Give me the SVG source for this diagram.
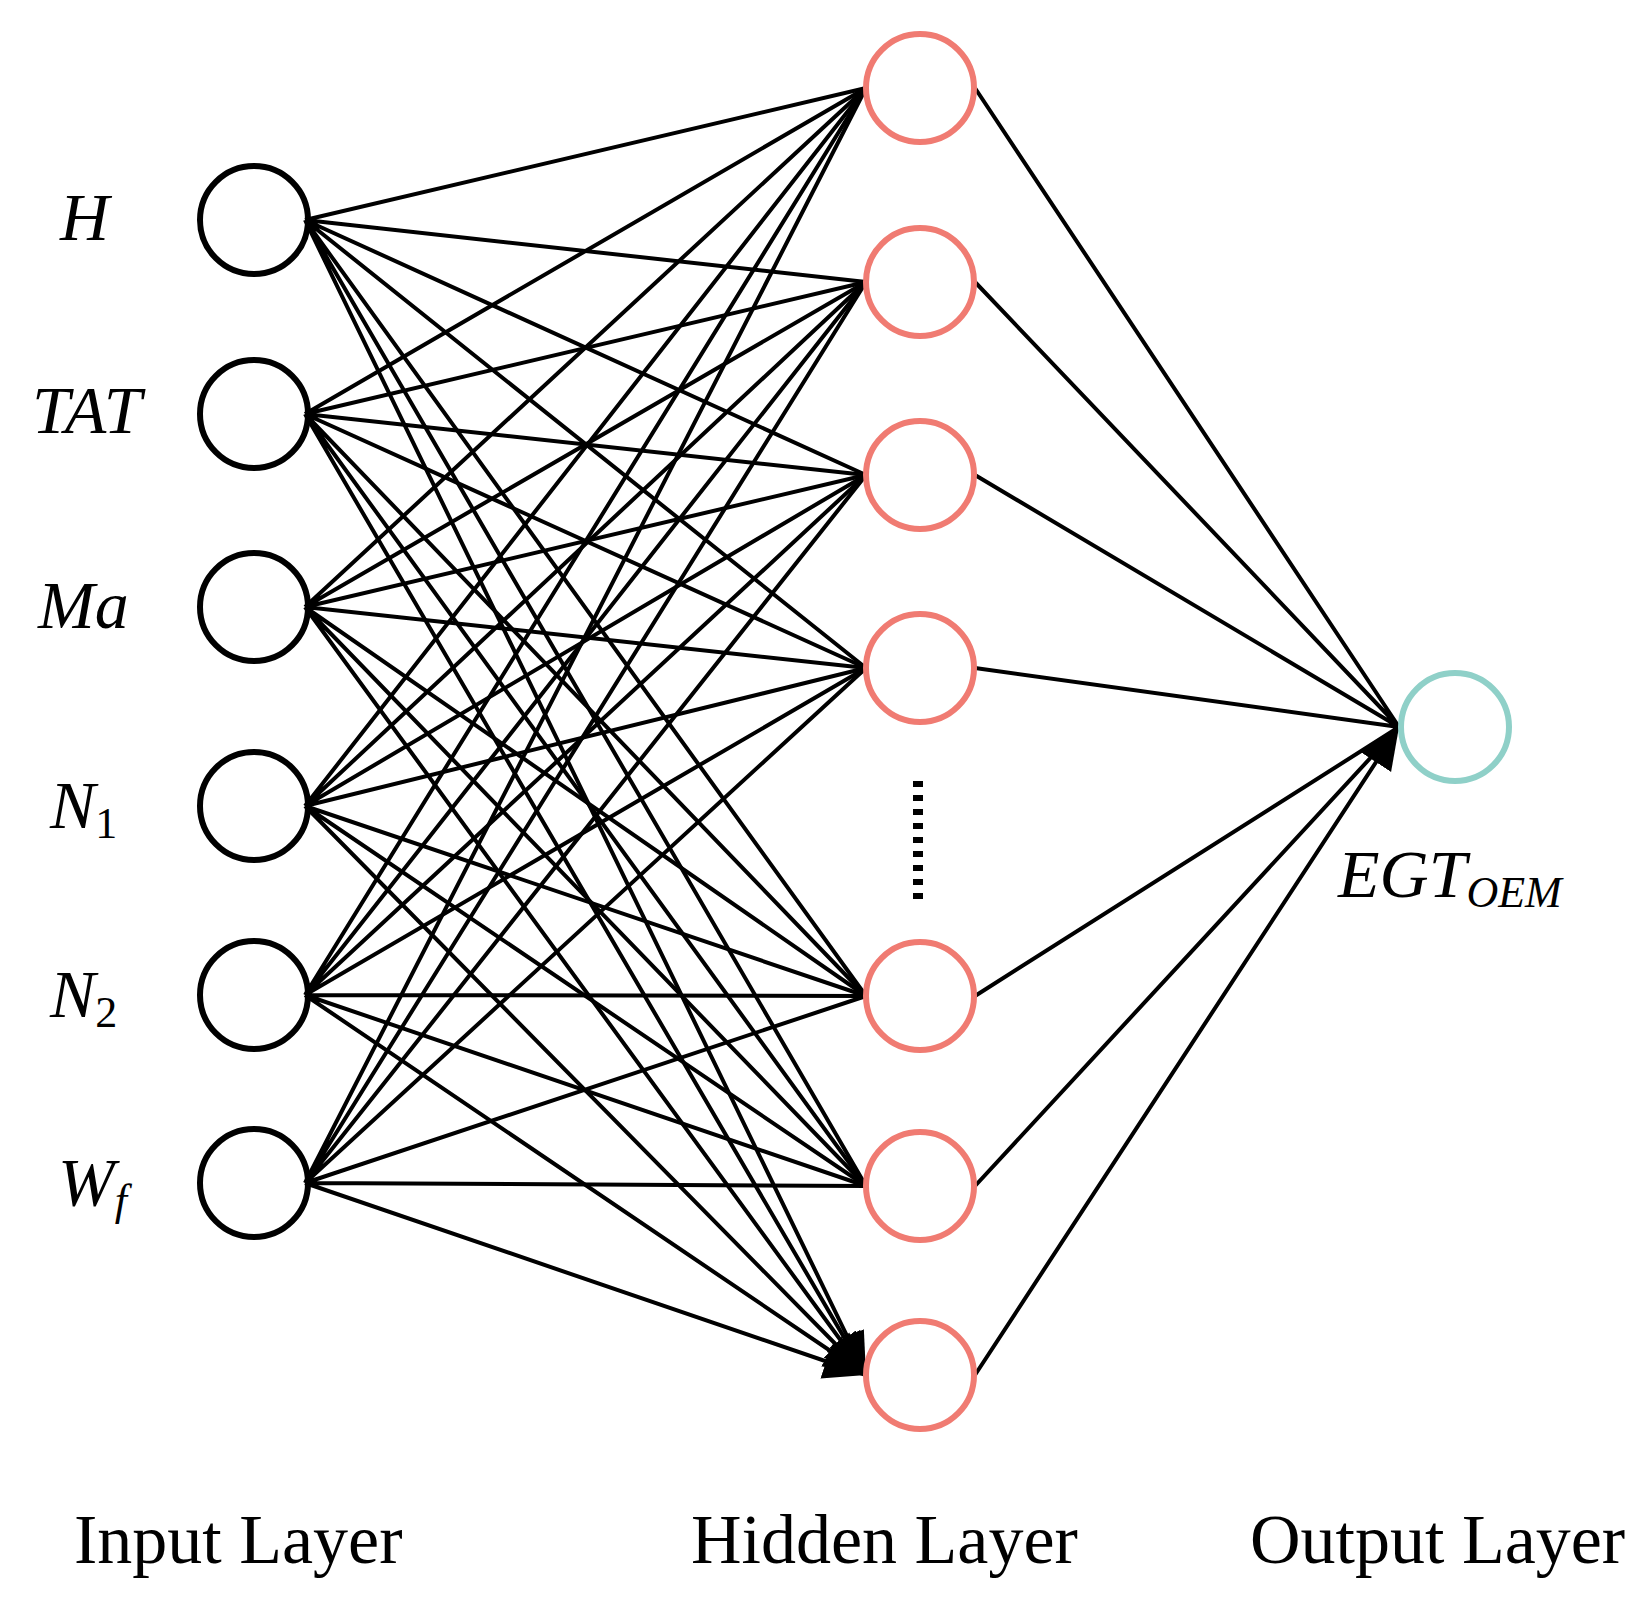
<svg xmlns="http://www.w3.org/2000/svg" width="1646" height="1607" viewBox="0 0 1646 1607">
<style>
.e{stroke:#000;stroke-width:4;fill:none;marker-end:url(#ah)}
.in{fill:none;stroke:#000;stroke-width:6}
.hid{fill:none;stroke:#F07B72;stroke-width:6}
.out{fill:none;stroke:#8FD0C8;stroke-width:6}
.lab{font-family:"Liberation Serif",serif;font-style:italic;font-size:68px;fill:#000}
.sub{font-size:44px}
.ttl{font-family:"Liberation Serif",serif;font-size:70px;fill:#000}
</style>
<defs>
<marker id="ah" markerUnits="userSpaceOnUse" markerWidth="44" markerHeight="40" refX="42" refY="20" orient="auto" viewBox="0 0 44 40">
<path d="M0,2 L42,20 L0,38 z" fill="#000"/>
</marker>
</defs>
<g id="connectors">
<!-- input to hidden -->
<path class="e" d="M305,220L866,88M305,220L866,282M305,220L866,475M305,220L866,668M305,220L866,996M305,220L866,1186M305,220L866,1375"/>
<path class="e" d="M305,414L866,88M305,414L866,282M305,414L866,475M305,414L866,668M305,414L866,996M305,414L866,1186M305,414L866,1375"/>
<path class="e" d="M305,607L866,88M305,607L866,282M305,607L866,475M305,607L866,668M305,607L866,996M305,607L866,1186M305,607L866,1375"/>
<path class="e" d="M305,806L866,88M305,806L866,282M305,806L866,475M305,806L866,668M305,806L866,996M305,806L866,1186M305,806L866,1375"/>
<path class="e" d="M305,995L866,88M305,995L866,282M305,995L866,475M305,995L866,668M305,995L866,996M305,995L866,1186M305,995L866,1375"/>
<path class="e" d="M305,1183L866,88M305,1183L866,282M305,1183L866,475M305,1183L866,668M305,1183L866,996M305,1183L866,1186M305,1183L866,1375"/>
<!-- hidden to output -->
<path class="e" d="M975,88L1399,727M975,282L1399,727M975,475L1399,727M975,668L1399,727M975,996L1399,727M975,1186L1399,727M975,1375L1399,727"/>
</g>
<g id="input-nodes">
<g id="in-H"><circle class="in" cx="254" cy="220" r="54"/><text class="lab" x="60" y="240">H</text></g>
<g id="in-TAT"><circle class="in" cx="254" cy="414" r="54"/><text class="lab" x="32" y="433">TAT</text></g>
<g id="in-Ma"><circle class="in" cx="254" cy="607" r="54"/><text class="lab" x="38" y="628">Ma</text></g>
<g id="in-N1"><circle class="in" cx="254" cy="806" r="54"/><text class="lab" x="50" y="828">N<tspan class="sub" font-style="normal" dy="10">1</tspan></text></g>
<g id="in-N2"><circle class="in" cx="254" cy="995" r="54"/><text class="lab" x="50" y="1017">N<tspan class="sub" font-style="normal" dy="10">2</tspan></text></g>
<g id="in-Wf"><circle class="in" cx="254" cy="1183" r="54"/><text class="lab" x="58" y="1205">W<tspan class="sub" dy="10">f</tspan></text></g>
</g>
<g id="hidden-nodes">
<g id="h1"><circle class="hid" cx="920" cy="88" r="54"/></g>
<g id="h2"><circle class="hid" cx="920" cy="282" r="54"/></g>
<g id="h3"><circle class="hid" cx="920" cy="475" r="54"/></g>
<g id="h4"><circle class="hid" cx="920" cy="668" r="54"/></g>
<g id="dots"><line x1="918" y1="781" x2="918" y2="902" stroke="#000" stroke-width="10" stroke-dasharray="6,8"/></g>
<g id="h5"><circle class="hid" cx="920" cy="996" r="54"/></g>
<g id="h6"><circle class="hid" cx="920" cy="1186" r="54"/></g>
<g id="h7"><circle class="hid" cx="920" cy="1375" r="54"/></g>
</g>
<g id="output-node">
<circle class="out" cx="1455" cy="727" r="54"/>
<text class="lab" x="1338" y="897" font-size="66">EGT<tspan class="sub" font-size="40" dy="10">OEM</tspan></text>
</g>
<g id="titles">
<text class="ttl" x="74" y="1563">Input Layer</text>
<text class="ttl" x="691" y="1563">Hidden Layer</text>
<text class="ttl" x="1250" y="1563">Output Layer</text>
</g>
</svg>
